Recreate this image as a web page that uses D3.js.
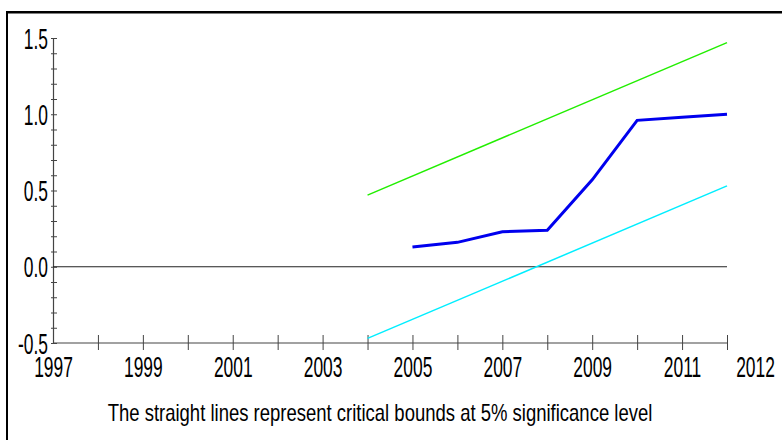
<!DOCTYPE html>
<html>
<head>
<meta charset="utf-8">
<script src="https://cdn.jsdelivr.net/npm/d3@7"></script>
<style>
  body { margin: 0; background: #fff; }
  svg { display: block; font-family: "Liberation Sans", Arial, sans-serif; }
</style>
</head>
<body>
<svg></svg>
<script>
// cusum of squares series
const years = [2005, 2006, 2007, 2008, 2009, 2010, 2011, 2012];
const cusumsq = [0.13, 0.16, 0.23, 0.24, 0.57, 0.96, 0.98, 1.0];

// critical bounds (straight lines, end points)
const boundYears = [2004, 2012];
const upperBound = [0.47, 1.47];
const lowerBound = [-0.47, 0.53];

const yMajorTicks = [-0.5, 0.0, 0.5, 1.0, 1.5];
const xLabelYears = [1997, 1999, 2001, 2003, 2005, 2007, 2009, 2011, 2012];
const caption = "The straight lines represent critical bounds at 5% significance level";

const w = 782;
const h = 440;
const plotLeft = 53, plotRight = 727, plotTop = 38, plotBottom = 343;

const svg = d3.select("svg")
              .attr("width", w)
              .attr("height", h);

// frame (top and left edges only visible)
svg.append("rect").attr("x", 6).attr("y", 11).attr("width", w - 6).attr("height", 2.5).attr("fill", "#000");
svg.append("rect").attr("x", 6).attr("y", 11).attr("width", 2).attr("height", h - 11).attr("fill", "#000");

const xScale = d3.scaleLinear()
                 .domain([1997, 2012])
                 .range([plotLeft, plotRight]);

const yScale = d3.scaleLinear()
                 .domain([-0.5, 1.5])
                 .range([plotBottom, plotTop]);

// y axis: minor ticks every 0.1
const yMinor = d3.axisLeft(yScale)
                 .tickValues(d3.range(-5, 16).map(d => d / 10))
                 .tickSize(-4)
                 .tickFormat("");
svg.append("g")
   .attr("transform", "translate(" + plotLeft + ",0)")
   .call(yMinor)
   .call(g => g.select(".domain").attr("stroke", "#444").attr("stroke-width", 1.2))
   .call(g => g.selectAll(".tick line").attr("stroke", "#444").attr("x1", -2));

const yAxis = d3.axisLeft(yScale)
                .tickValues(yMajorTicks)
                .tickSize(0)
                .tickFormat(d => d.toFixed(1));
svg.append("g")
   .attr("transform", "translate(" + plotLeft + ",0)")
   .call(yAxis)
   .call(g => g.select(".domain").remove())
   .call(g => g.selectAll(".tick text")
               .attr("x", 0)
               .attr("dy", "0.35em")
               .attr("transform", "translate(-5,0) scale(0.6,1)")
               .attr("fill", "#000")
               .attr("font-size", 29));

// x axis along -0.5
const xAxis = d3.axisBottom(xScale)
                .tickValues(d3.range(1997, 2013))
                .tickSize(7)
                .tickFormat(d => xLabelYears.includes(d) ? String(d) : "");
svg.append("g")
   .attr("transform", "translate(0," + plotBottom + ")")
   .call(xAxis)
   .call(g => g.select(".domain").attr("d", "M" + plotLeft + ",0H" + plotRight).attr("stroke", "#444").attr("stroke-width", 1.2))
   .call(g => g.selectAll(".tick line").attr("stroke", "#444").attr("y1", -8)
               .filter(d => d == 1997).remove())
   .call(g => g.selectAll(".tick text")
               .attr("y", 0)
               .attr("dy", 0)
               .attr("transform", d => "translate(" + (d == 2012 ? 28 : 0) + ",34) scale(0.6,1)")
               .attr("fill", "#000")
               .attr("font-size", 29));

// zero line
svg.append("line")
   .attr("x1", xScale(1997)).attr("x2", xScale(2012))
   .attr("y1", yScale(0)).attr("y2", yScale(0))
   .attr("stroke", "#222").attr("stroke-width", 1.2);

// bounds
const bound = (vals) => d3.line()
                          .x((d, i) => xScale(boundYears[i]))
                          .y(d => yScale(d))(vals);

svg.append("path")
   .attr("d", bound(upperBound))
   .attr("fill", "none")
   .attr("stroke", "#22ee00")
   .attr("stroke-width", 1.5);

svg.append("path")
   .attr("d", bound(lowerBound))
   .attr("fill", "none")
   .attr("stroke", "#00eeff")
   .attr("stroke-width", 1.5);

// cusum of squares line
const line = d3.line()
               .x((d, i) => xScale(years[i]))
               .y(d => yScale(d));

svg.append("path")
   .attr("d", line(cusumsq))
   .attr("fill", "none")
   .attr("stroke", "#0000ee")
   .attr("stroke-width", 3);

// caption, squeezed to the width it has in the original
const cap = svg.append("text")
               .attr("text-anchor", "middle")
               .attr("font-size", 23)
               .attr("fill", "#000")
               .text(caption);
const capLen = cap.node().getComputedTextLength();
cap.attr("transform", "translate(380,421) scale(" + (545 / capLen) + ",1)");
</script>
</body>
</html>
